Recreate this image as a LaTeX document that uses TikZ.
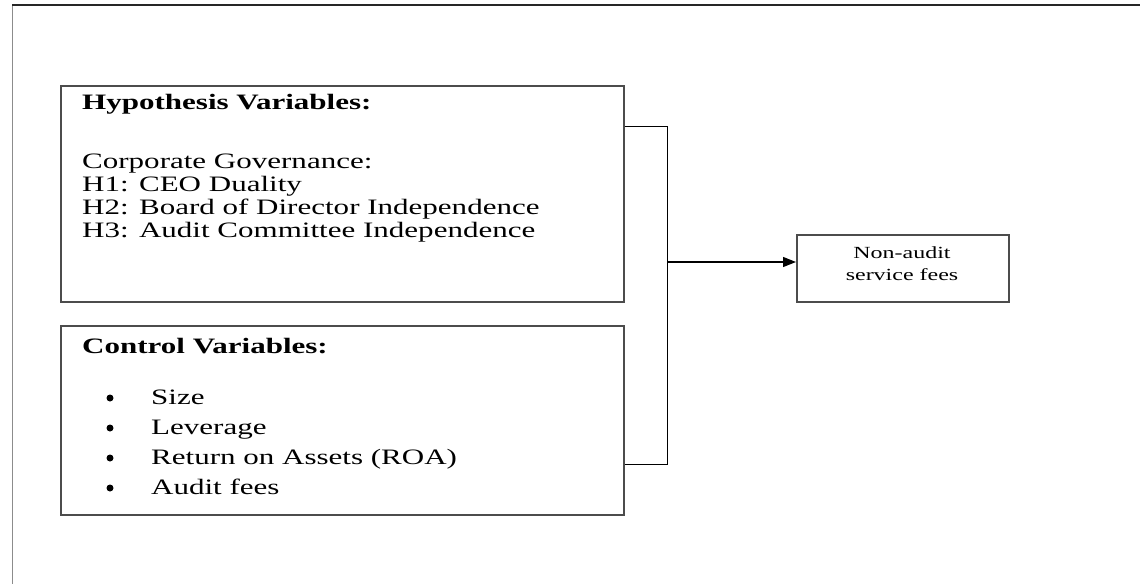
\documentclass[tikz,border=0pt]{standalone}
\usepackage{fontspec}
\setmainfont{Liberation Serif}[FakeStretch=1.41]
\usetikzlibrary{arrows.meta}
\begin{document}
\begin{tikzpicture}[x=1pt,y=-1pt,
  box/.style={draw=black!70, line width=1.8pt, anchor=north west, inner sep=0pt},
  link/.style={draw=black, line width=1pt},
  txt/.style={anchor=base west, inner sep=0pt, font=\fontsize{22}{23}\selectfont},
  btxt/.style={txt, font=\fontsize{22}{23}\selectfont\bfseries},
  dot/.style={circle, fill=black, inner sep=0pt, minimum size=7pt},
  small/.style={anchor=base, inner sep=0pt, font=\fontsize{17}{22}\selectfont}
]
\useasboundingbox (0,0) rectangle (1140,584);
% outer frame (top and left only)
\draw[black!45, line width=1pt] (12,5) -- (12,584);
\draw[black!85, line width=2pt] (12,5) -- (1140,5);

% boxes
\node[box, minimum width=563pt, minimum height=216pt] (hyp) at (60,85) {};
\node[box, minimum width=563pt, minimum height=189pt] (ctl) at (60,325) {};
\node[box, minimum width=212pt, minimum height=67pt] (nas) at (796,234) {};

% hypothesis text
\node[btxt] (h0) at (82,109) {Hypothesis Variables:};
\node[txt] (h1) at (82,168) {Corporate Governance:};
\node[txt] (h2) at (82,191) {H1: CEO Duality};
\node[txt] (h3) at (82,214) {H2: Board of Director Independence};
\node[txt] (h4) at (82,237) {H3: Audit Committee Independence};

% control text
\node[btxt] (c0) at (82,353) {Control Variables:};
\node[dot] (b1) at (110,398) {};
\node[dot] (b2) at (110,428) {};
\node[dot] (b3) at (110,458) {};
\node[dot] (b4) at (110,488) {};
\node[txt] (c1) at (151,404) {Size};
\node[txt] (c2) at (151,434) {Leverage};
\node[txt] (c3) at (151,464) {Return on Assets (ROA)};
\node[txt] (c4) at (151,494) {Audit fees};

% outcome text
\node[small] (nt1) at (902,258) {Non-audit};
\node[small] (nt2) at (902,280) {service fees};

% connectors
\coordinate (j1) at (667,126);
\coordinate (j2) at (667,464);
\coordinate (jm) at (667,262);
\draw[link] (hyp.east |- j1) -- (j1) -- (j2) -- (ctl.east |- j2);
\draw[link, line width=1.3pt, -{Triangle[length=13pt,width=10pt]}] (jm) -- (nas.west |- jm);
\end{tikzpicture}
\end{document}
